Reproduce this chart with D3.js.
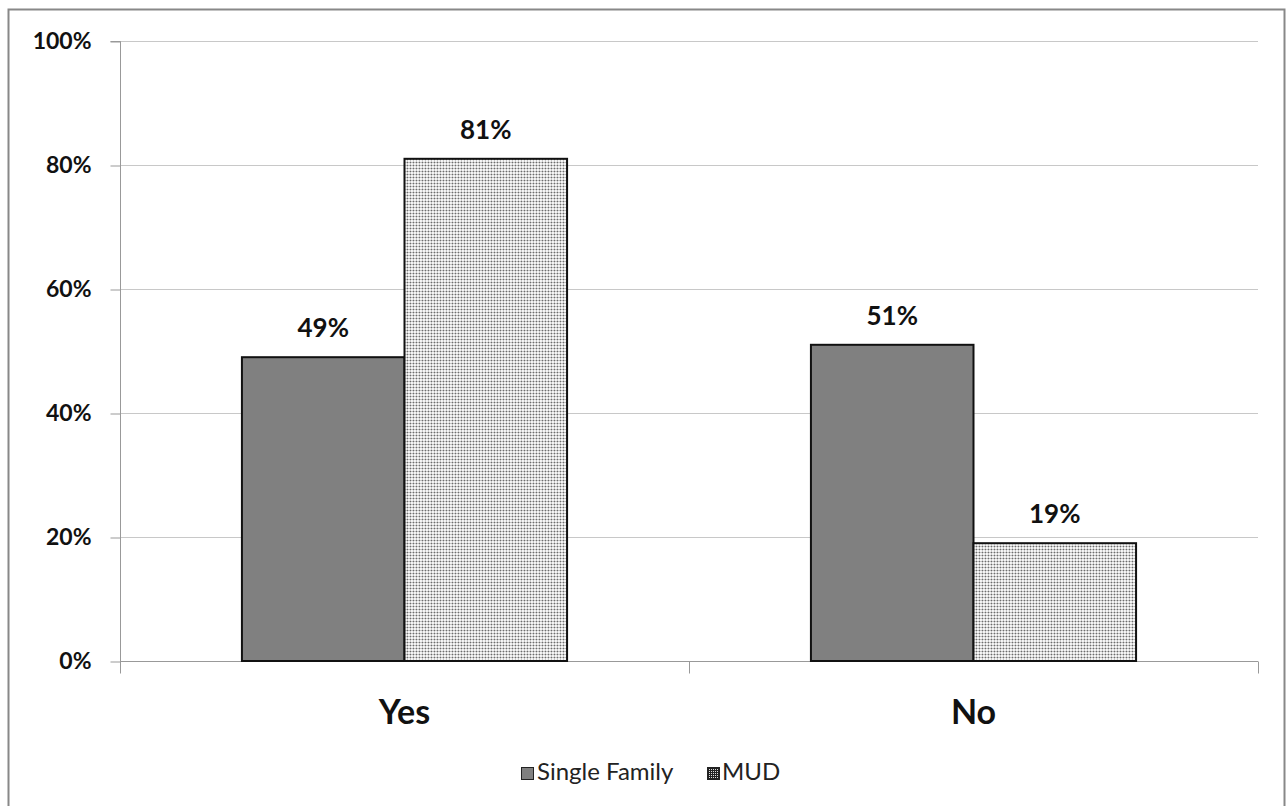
<!DOCTYPE html>
<html><head><meta charset="utf-8">
<script src="https://cdn.jsdelivr.net/npm/d3@7"></script>
<style>body{margin:0;background:#fff;}svg{display:block;}</style>
</head><body>
<svg id="c" width="1286" height="806"></svg>
<script>
const categories = ["Yes", "No"];
const seriesNames = ["Single Family", "MUD"];
const singleFamily = [49, 51];
const mud = [81, 19];
const yTicks = [0, 20, 40, 60, 80, 100];

(function(){
const svg = d3.select("#c");
const font = "Lato, 'Open Sans', sans-serif";
const defs = svg.append("defs");
const pat = defs.append("pattern").attr("id","dots").attr("patternUnits","userSpaceOnUse")
  .attr("width",3).attr("height",3);
pat.append("rect").attr("width",3).attr("height",3).attr("fill","#f6f6f6");
pat.append("rect").attr("x",0).attr("y",0).attr("width",3).attr("height",1).attr("fill","#c4c4c4");
pat.append("rect").attr("x",0).attr("y",0).attr("width",1).attr("height",3).attr("fill","#c4c4c4");
pat.append("rect").attr("x",0).attr("y",0).attr("width",1).attr("height",1).attr("fill","#666");
const pat2 = defs.append("pattern").attr("id","dotsLeg").attr("patternUnits","userSpaceOnUse")
  .attr("width",2).attr("height",2);
pat2.append("rect").attr("width",2).attr("height",2).attr("fill","#222");
pat2.append("rect").attr("x",1).attr("y",1).attr("width",1).attr("height",1).attr("fill","#ddd");

// frame
svg.append("rect").attr("x",8.5).attr("y",9.5).attr("width",1276).attr("height",800)
  .attr("fill","#fff").attr("stroke","#888").attr("stroke-width",2);

const pl = 120, pr = 1258, pt = 41, pb = 661;
const y = d3.scaleLinear().domain([0,100]).range([pb, pt]);
const x0 = d3.scaleBand().domain(categories).range([pl, pr]).paddingInner(0).paddingOuter(0);
const groupW = x0.bandwidth() * 2 / 3.5;
const x1 = d3.scaleBand().domain(seriesNames).range([0, groupW]).padding(0);

// gridlines
svg.append("g").selectAll("line").data(yTicks.filter(d=>d>0)).join("line")
  .attr("x1",pl).attr("x2",pr).attr("y1",d=>Math.round(y(d))+0.5).attr("y2",d=>Math.round(y(d))+0.5)
  .attr("stroke","#c8c8c8").attr("stroke-width",1);

// y axis
const yAxis = d3.axisLeft(y).tickValues(yTicks).tickFormat(d=>d+"%").tickSize(10).tickPadding(19);
const gy = svg.append("g").attr("transform",`translate(${pl+0.5},0.5)`).call(yAxis);
gy.select(".domain").attr("stroke","#999").attr("d",`M-10,${pt}H0V${pb}`);
gy.selectAll(".tick line").attr("stroke","#999");
gy.selectAll("text").attr("font-family",font).attr("font-size",23).attr("font-weight","bold").attr("fill","#111");

// x axis
const gx = svg.append("g").attr("transform",`translate(0,${pb+0.5})`);
gx.append("line").attr("x1",pl).attr("x2",pr).attr("stroke","#999");
const xt = [pl, ...categories.slice(1).map(c=>x0(c)), pr];
gx.selectAll("line.t").data(xt).join("line").attr("class","t")
  .attr("x1",d=>Math.round(d)+0.5).attr("x2",d=>Math.round(d)+0.5).attr("y1",0).attr("y2",12).attr("stroke","#999");
gx.selectAll("text").data(categories).join("text")
  .attr("x",d=>x0(d)+x0.bandwidth()/2).attr("y",62).attr("text-anchor","middle")
  .attr("font-family",font).attr("font-size",34).attr("font-weight","bold").attr("fill","#111").text(d=>d);

// bars
const rows = categories.map((c,i)=>({cat:c, vals:[{s:"Single Family",v:singleFamily[i]},{s:"MUD",v:mud[i]}]}));
const g = svg.append("g").selectAll("g").data(rows).join("g")
  .attr("transform",d=>`translate(${x0(d.cat)+(x0.bandwidth()-groupW)/2},0)`);
g.selectAll("rect").data(d=>d.vals).join("rect")
  .attr("x",d=>x1(d.s)).attr("width",x1.bandwidth()).attr("y",d=>y(d.v)).attr("height",d=>y(0)-y(d.v))
  .attr("fill",d=>d.s==="MUD"?"url(#dots)":"#808080").attr("stroke","#111").attr("stroke-width",2);
g.selectAll("text").data(d=>d.vals).join("text")
  .attr("x",d=>x1(d.s)+x1.bandwidth()/2).attr("y",d=>y(d.v)-20).attr("text-anchor","middle")
  .attr("font-family",font).attr("font-size",26).attr("font-weight","bold").attr("fill","#111").text(d=>d.v+"%");

// legend
const lg = svg.append("g");
const items = [{s:"Single Family",x:521,tx:537},{s:"MUD",x:707,tx:722}];
items.forEach(it=>{
  lg.append("rect").attr("x",it.x+0.5).attr("y",767.5).attr("width",12).attr("height",12)
    .attr("fill",it.s==="MUD"?"url(#dotsLeg)":"#808080").attr("stroke","#222").attr("stroke-width",1);
  lg.append("text").attr("x",it.tx).attr("y",780).attr("font-family",font).attr("font-size",24)
    .attr("fill","#222").text(it.s);
});
})();
</script>
</body></html>
